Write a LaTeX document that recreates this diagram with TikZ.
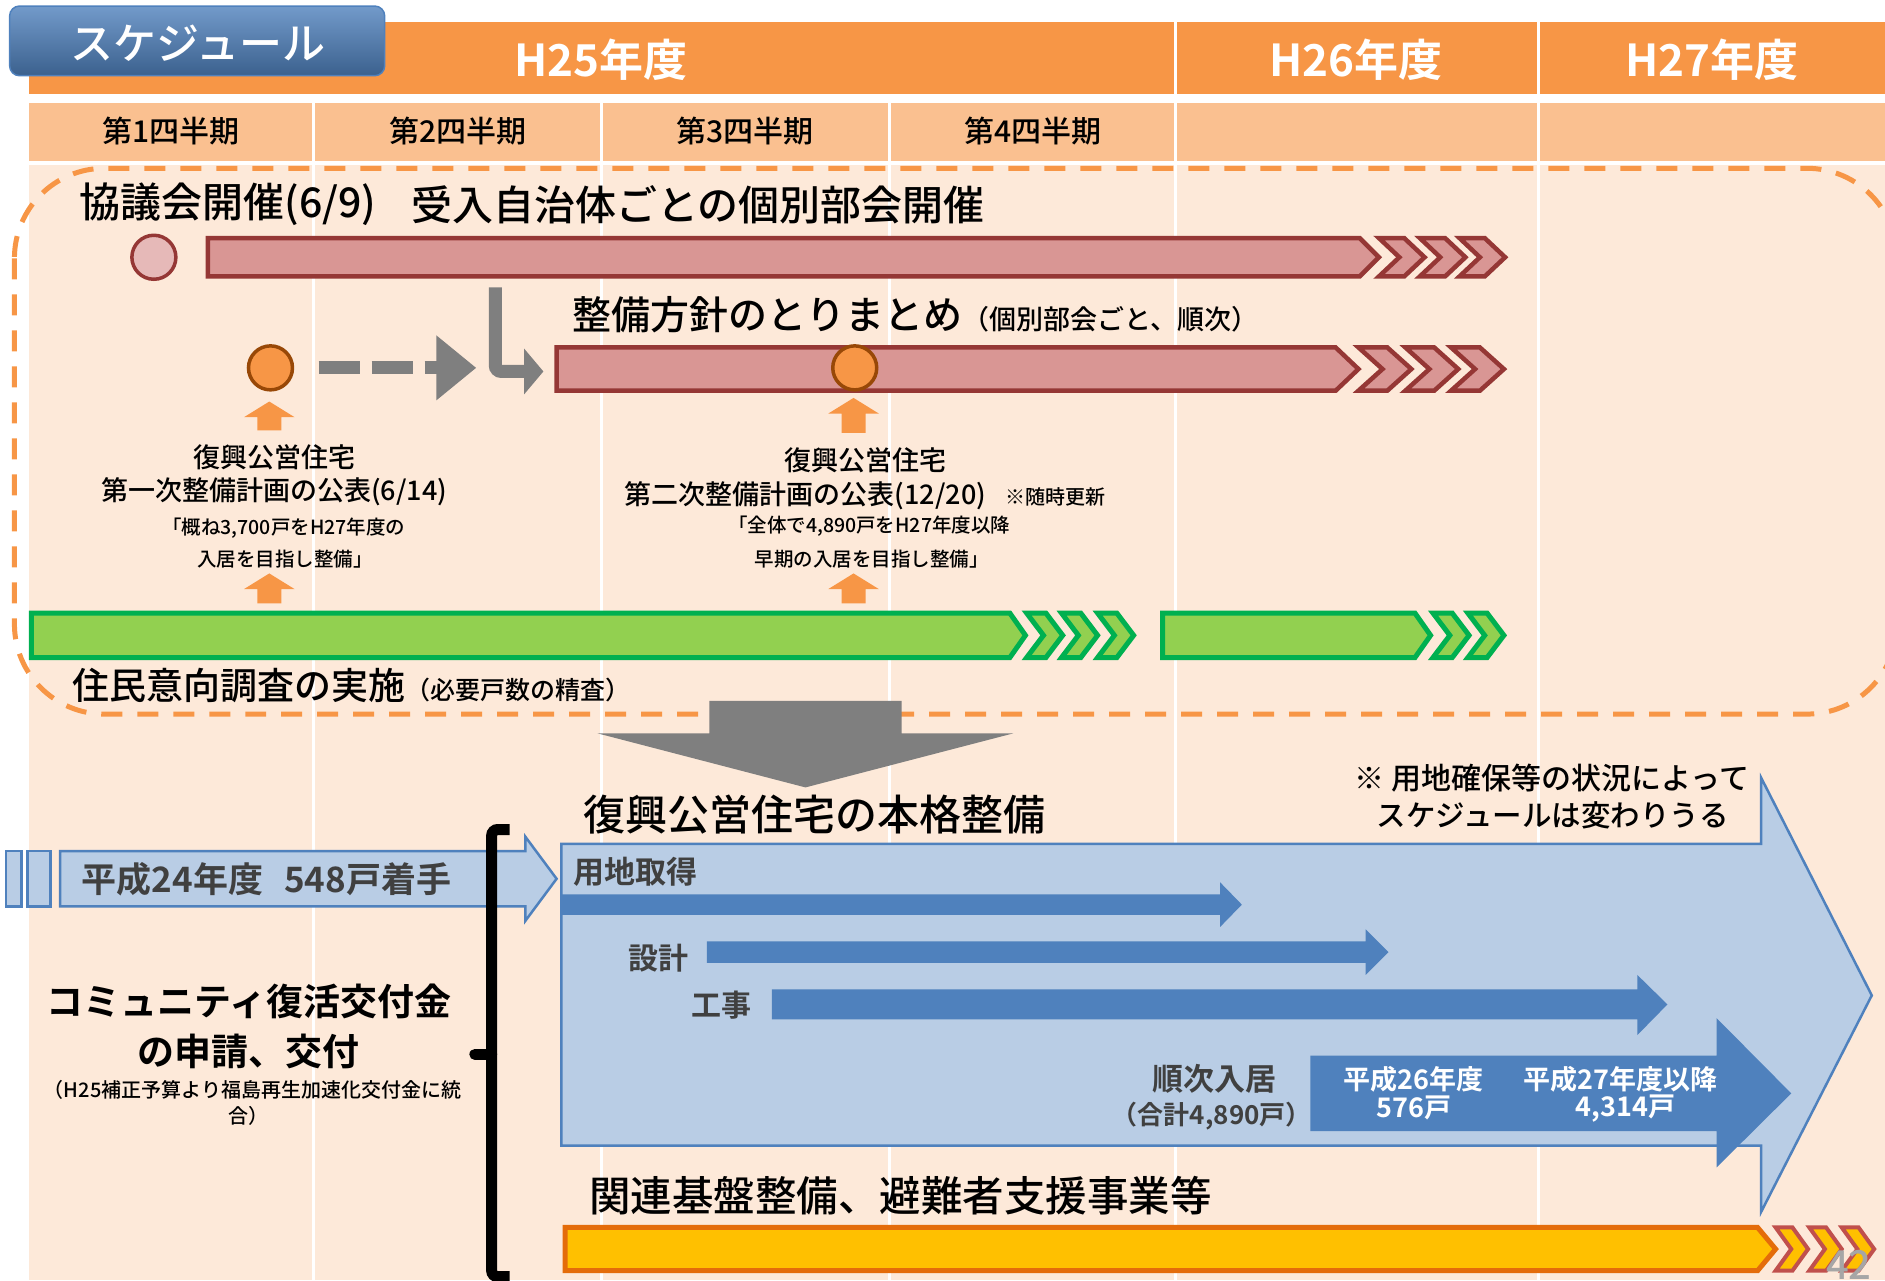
\documentclass[tikz,border=0pt]{standalone}
\usepackage{fontspec}
\setmainfont{Noto Sans CJK JP}[UprightFont={* Medium},BoldFont={* Bold}]
\usetikzlibrary{positioning}

\definecolor{hdorange}{HTML}{F79646}
\definecolor{qtrorange}{HTML}{FAC090}
\definecolor{bodypeach}{HTML}{FDE9D9}
\definecolor{barred}{HTML}{D99694}
\definecolor{barredline}{HTML}{953735}
\definecolor{dotpink}{HTML}{E6B9B8}
\definecolor{dotbrown}{HTML}{984807}
\definecolor{bargreen}{HTML}{92D050}
\definecolor{bargreenline}{HTML}{00B050}
\definecolor{lightblue}{HTML}{B9CDE5}
\definecolor{midblue}{HTML}{4F81BD}
\definecolor{baryellow}{HTML}{FFC000}
\definecolor{baryellowline}{HTML}{E46C0A}
\definecolor{chevred}{HTML}{C0504D}
\definecolor{txtgray}{HTML}{404040}
\definecolor{arrgray}{HTML}{7F7F7F}

\newcommand{\fsz}[1]{\fontsize{#1}{#1}\selectfont}
% bar with pointed end: style, x0, x corner, y top, y bottom, x tip
\newcommand{\timebar}[6]{\draw[#1] (#2,#4) -- (#3,#4) -- (#6,{(#4+#5)/2}) -- (#3,#5) -- (#2,#5) -- cycle;}
% chevron: style, x start, extent, depth, y top, y bottom
\newcommand{\chevblk}[6]{\draw[#1] (#2,#5) -- ({#2+#3-#4},#5) -- ({#2+#3},{(#5+#6)/2}) -- ({#2+#3-#4},#6) -- (#2,#6) -- ({#2+#4},{(#5+#6)/2}) -- cycle;}
% small orange up arrow: x, y top, y bottom
\newcommand{\uparr}[3]{\fill[hdorange] (#1,#2) -- ({#1+21},{#2+13}) -- ({#1+10},{#2+13}) -- ({#1+10},#3) -- ({#1-10},#3) -- ({#1-10},{#2+13}) -- ({#1-21},{#2+13}) -- cycle;}

\begin{document}
\begin{tikzpicture}[x=1.2022pt,y=-1.2022pt,
    every node/.style={inner sep=0pt},
    gridline/.style={white,line width=3pt},
    hdtxt/.style={text=white,font=\fsz{44}\bfseries},
    qtxt/.style={font=\fsz{30}},
    redbar/.style={fill=barred,draw=barredline,line width=4.5pt},
    greenbar/.style={fill=bargreen,draw=bargreenline,line width=5pt},
    yellowbar/.style={fill=baryellow,draw=baryellowline,line width=5pt},
    yellowchev/.style={fill=baryellow,draw=chevred,line width=4pt},
    lblue/.style={fill=lightblue,draw=midblue,line width=2.5pt},
    orgdot/.style={circle,fill=hdorange,draw=dotbrown,line width=3.5pt,minimum size=44pt},
    pinkdot/.style={circle,fill=dotpink,draw=barredline,line width=3.5pt,minimum size=44pt},
    worktxt/.style={text=txtgray,font=\fsz{31}\bfseries}]
  \useasboundingbox (0,0) rectangle (1568,1065);
  % background and grid
  \fill[hdorange] (24,18) rectangle (1568,78);
  \fill[qtrorange] (24,86) rectangle (1568,134);
  \fill[bodypeach] (24,137) rectangle (1568,1065);
  \foreach \x in {261,500,740} \draw[gridline] (\x,86) -- (\x,1065);
  \foreach \x in {978,1280} \draw[gridline] (\x,18) -- (\x,1065);

  % header
  \draw[rounded corners=10pt,draw=midblue,line width=1.5pt,top color=midblue!80!white,bottom color=midblue!75!black] (8,5) rectangle (320,63);
  \node[text=white,font=\fsz{43}] (sched) at (165,36) {スケジュール};
  \node[hdtxt] (h25) at (500,50) {H25年度};
  \node[hdtxt] (h26) at (1128,50) {H26年度};
  \node[hdtxt] (h27) at (1424,50) {H27年度};
  \node[qtxt] (q1) at (142,109) {第1四半期};
  \node[qtxt] (q2) at (381,109) {第2四半期};
  \node[qtxt] (q3) at (620,109) {第3四半期};
  \node[qtxt] (q4) at (859,109) {第4四半期};

  % consultation phase
  \draw[hdorange,line width=5pt,dash pattern=on 21pt off 15pt,rounded corners=90pt] (12,140) rectangle (1578,594);
  \node[anchor=west,font=\fsz{41}] (kyogi) at (66,170) {協議会開催(6/9)};
  \node[anchor=west,font=\fsz{41}] (bukai) at (342,170) {受入自治体ごとの個別部会開催};
  \node[pinkdot] (kyogidot) at (128,214) {};
  \timebar{redbar}{173}{1131}{198}{230}{1147}
  \foreach \s in {1147,1181,1214} {\chevblk{redbar}{\s}{38}{17}{198}{230}}

  \draw[arrgray,line width=13pt,rounded corners=6pt] (412,239) -- (412,309) -- (437,309);
  \fill[arrgray] (436,290) -- (452,309) -- (436,328) -- cycle;
  \node[anchor=west,font=\fsz{39}] (hoshin) at (476,262) {整備方針のとりまとめ{\fsz{27}（個別部会ごと、順次）}};
  \timebar{redbar}{463}{1111}{289}{325}{1130}
  \foreach \s in {1130,1169,1207} {\chevblk{redbar}{\s}{44}{20}{289}{325}}

  \node[orgdot] (pub1dot) at (225,306) {};
  \draw[arrgray,line width=13pt,dash pattern=on 41pt off 12pt] (265,306) -- (364,306);
  \fill[arrgray] (363,279) -- (396,306) -- (363,333) -- cycle;
  \node[orgdot] (pub2dot) at (711,306) {};

  \uparr{224}{334}{358}
  \uparr{224}{477}{502}
  \uparr{710}{331}{360}
  \uparr{710}{477}{502}

  \node[font=\fsz{27}] (pub1a) at (228,380) {復興公営住宅};
  \node[font=\fsz{27}] (pub1b) at (228,409) {第一次整備計画の公表(6/14)};
  \node[font=\fsz{19.5}] (pub1c) at (236,439) {「概ね3,700戸をH27年度の};
  \node[font=\fsz{19.5}] (pub1d) at (237,465) {入居を目指し整備」};
  \node[font=\fsz{27}] (pub2a) at (720,383) {復興公営住宅};
  \node[font=\fsz{27}] (pub2b) at (670,412) {第二次整備計画の公表(12/20)};
  \node[anchor=west,font=\fsz{20}] (pub2note) at (836,413) {※随時更新};
  \node[font=\fsz{19.5}] (pub2c) at (723,438) {「全体で4,890戸をH27年度以降};
  \node[font=\fsz{19.5}] (pub2d) at (725,465) {早期の入居を目指し整備」};

  \timebar{greenbar}{26}{840}{510}{547}{853}
  \foreach \s in {854,883,913} {\chevblk{greenbar}{\s}{30}{14}{510}{547}}
  \timebar{greenbar}{967}{1177}{510}{547}{1190}
  \foreach \s in {1192,1221} {\chevblk{greenbar}{\s}{30}{14}{510}{547}}
  \node[anchor=west,font=\fsz{37}] (chosa) at (60,570) {住民意向調査の実施{\fsz{25}（必要戸数の精査）}};

  \fill[arrgray] (590,583) -- (750,583) -- (750,610) -- (843,610) -- (670,655) -- (497,610) -- (590,610) -- cycle;

  % construction phase
  \node[anchor=west,font=\fsz{42}] (honkaku) at (485,678) {復興公営住宅の本格整備};
  \node[anchor=east,font=\fsz{30}] (note1) at (1455,647) {※ 用地確保等の状況によって};
  \node[anchor=east,font=\fsz{29.5}] (note2) at (1438,678) {スケジュールは変わりうる};
  \draw[lblue] (467,702) -- (1465,702) -- (1465,647) -- (1557,828) -- (1465,1008) -- (1465,953) -- (467,953) -- cycle;

  \draw[lblue] (5,708) rectangle (18,754);
  \draw[lblue] (23,708) rectangle (42,754);
  \draw[lblue] (50,708) -- (437,708) -- (437,696) -- (463,731) -- (437,766) -- (437,754) -- (50,754) -- cycle;
  \node[anchor=west,text=txtgray,font=\fsz{35}\bfseries] (h24) at (68,731) {平成24年度\hspace{0.6em}548戸着手};

  \draw[line width=11pt,rounded corners=6pt] (424,690) -- (409,690) -- (409,1062) -- (424,1062);
  \draw[line width=11pt,line cap=round] (409,877) -- (395,877);
  \node[font=\fsz{37}\bfseries] (komi1) at (207,833) {コミュニティ復活交付金};
  \node[font=\fsz{37}\bfseries] (komi2) at (207,875) {の申請、交付};
  \node[font=\fsz{20}] (komi3) at (210,907) {（H25補正予算より福島再生加速化交付金に統};
  \node[font=\fsz{20}] (komi4) at (207,928) {合）};

  \node[anchor=west,worktxt] (yochi) at (477,725) {用地取得};
  \fill[midblue] (467,744) -- (1015,744) -- (1015,734) -- (1033,752.5) -- (1015,771) -- (1015,761) -- (467,761) -- cycle;
  \node[anchor=west,worktxt,font=\fsz{30}\bfseries] (sekkei) at (523,797) {設計};
  \fill[midblue] (588,783) -- (1136,783) -- (1136,773) -- (1155,792) -- (1136,811) -- (1136,801) -- (588,801) -- cycle;
  \node[anchor=west,worktxt,font=\fsz{30}\bfseries] (koji) at (575,836) {工事};
  \fill[midblue] (642,823) -- (1362,823) -- (1362,811) -- (1387,835.5) -- (1362,861) -- (1362,848) -- (642,848) -- cycle;

  \node[worktxt] (nyukyo1) at (1010,897) {順次入居};
  \node[worktxt,font=\fsz{26}\bfseries] (nyukyo2) at (1008,928) {（合計4,890戸）};
  \fill[midblue] (1090,878) -- (1428,878) -- (1428,847) -- (1490,909.5) -- (1428,971) -- (1428,941) -- (1090,941) -- cycle;
  \node[text=white,font=\fsz{27}\bfseries] (h26a) at (1176,898) {平成26年度};
  \node[text=white,font=\fsz{27}\bfseries] (h26b) at (1176,922) {576戸};
  \node[text=white,font=\fsz{27}\bfseries] (h27a) at (1348,898) {平成27年度以降};
  \node[text=white,font=\fsz{27}\bfseries] (h27b) at (1352,922) {4,314戸};

  \node[anchor=west,font=\fsz{41.5}] (kanren) at (490,995) {関連基盤整備、避難者支援事業等};
  \timebar{yellowbar}{470}{1462}{1021}{1057}{1477}
  \foreach \s in {1477,1505,1532} {\chevblk{yellowchev}{\s}{27}{13}{1021}{1057}}

  \node[text=gray!70,font=\fsz{40}] (pageno) at (1538,1052) {42};
\end{tikzpicture}
\end{document}
